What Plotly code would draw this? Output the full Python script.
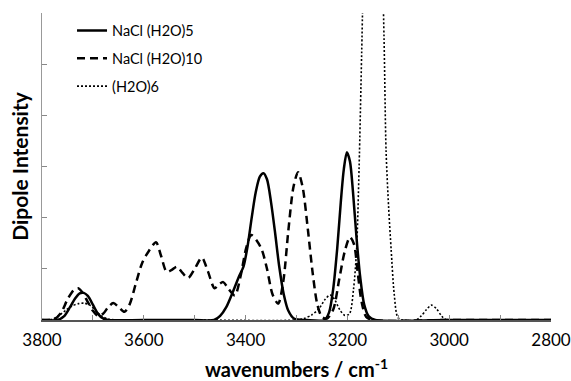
import plotly.graph_objects as go

# NaCl (H2O)5  (solid)
x_nacl5 = [3800, 3770, 3757, 3745, 3735, 3726, 3718, 3710, 3700, 3690, 3680, 3670, 3600, 3500,
           3462, 3450, 3438, 3425, 3413, 3404, 3396, 3388, 3380, 3372, 3365, 3358, 3350, 3342,
           3334, 3325, 3316, 3305, 3280, 3245, 3236, 3228, 3220, 3213, 3207, 3201, 3195, 3189,
           3182, 3175, 3167, 3158, 3145, 3000, 2800]
y_nacl5 = [0, 0, 0.07, 0.25, 0.42, 0.52, 0.53, 0.47, 0.3, 0.12, 0.03, 0, 0, 0,
           0, 0.08, 0.25, 0.55, 0.85, 1.05, 1.45, 2.0, 2.5, 2.8, 2.87, 2.75, 2.3, 1.7,
           1.05, 0.5, 0.18, 0.03, 0, 0, 0.15, 0.6, 1.4, 2.3, 2.95, 3.28, 3.1, 2.5,
           1.6, 0.85, 0.3, 0.07, 0, 0, 0]

# NaCl (H2O)10  (dashed)
x_nacl10 = [3800, 3775, 3762, 3750, 3738, 3729, 3720, 3710, 3700, 3690, 3680, 3670, 3660, 3650,
            3638, 3628, 3616, 3603, 3590, 3576, 3566, 3555, 3545, 3535, 3524, 3513, 3500, 3486,
            3474, 3461, 3452, 3444, 3433, 3421, 3410, 3399, 3389, 3378, 3368, 3358, 3347, 3336,
            3326, 3316, 3306, 3297, 3288, 3278, 3268, 3259, 3250, 3240, 3228, 3216, 3205, 3195,
            3187, 3180, 3172, 3163, 3150, 3000, 2800]
y_nacl10 = [0, 0.02, 0.15, 0.4, 0.58, 0.62, 0.53, 0.35, 0.18, 0.08, 0.12, 0.25, 0.33, 0.26,
            0.16, 0.3, 0.7, 1.12, 1.35, 1.52, 1.25, 0.94, 0.98, 1.04, 0.92, 0.82, 1.0, 1.22,
            0.95, 0.62, 0.7, 0.74, 0.6, 0.48, 0.85, 1.4, 1.66, 1.55, 1.37, 1.0, 0.5, 0.32,
            0.75, 1.75, 2.6, 2.89, 2.6, 1.8, 0.9, 0.3, 0.06, 0.03, 0.2, 0.8, 1.35, 1.62,
            1.48, 0.95, 0.35, 0.06, 0, 0, 0]

# (H2O)6  (dotted)
x_h2o6 = [3800, 3778, 3765, 3752, 3740, 3728, 3718, 3706, 3694, 3682, 3670, 3655, 3500, 3300,
          3285, 3270, 3256, 3244, 3234, 3225, 3215, 3205, 3196, 3188, 3182, 3177, 3172, 3166,
          3158, 3150, 3142, 3134, 3128, 3124, 3119, 3114, 3108, 3101, 3092, 3065, 3055, 3045,
          3035, 3025, 3015, 3005, 2900, 2800]
y_h2o6 = [0, 0.02, 0.1, 0.2, 0.28, 0.32, 0.33, 0.29, 0.18, 0.07, 0.02, 0, 0, 0,
          0.03, 0.1, 0.22, 0.4, 0.49, 0.4, 0.2, 0.09, 0.12, 0.6, 1.37, 3.0, 5.2, 8.0,
          10.8, 12.0, 10.8, 8.0, 5.5, 3.3, 2.2, 1.37, 0.5, 0.05, 0, 0, 0.08, 0.2,
          0.29, 0.22, 0.08, 0, 0, 0]

x_ticks = [3800, 3600, 3400, 3200, 3000, 2800]
x_tick_labels = ["3800", "3600", "3400", "3200", "3000", "2800"]
y_ticks = [0, 1, 2, 3, 4, 5, 6]

fig = go.Figure()
fig.add_trace(go.Scatter(x=x_nacl5, y=y_nacl5, mode="lines", name="NaCl (H2O)5",
                         legendgroup="a",
                         line=dict(color="black", width=2.5, shape="spline", smoothing=0.8)))
fig.add_trace(go.Scatter(x=x_nacl10, y=y_nacl10, mode="lines", name="NaCl (H2O)10",
                         legendgroup="b",
                         line=dict(color="black", width=2.5, dash="8px,5px", shape="spline", smoothing=0.8)))
fig.add_trace(go.Scatter(x=x_h2o6, y=y_h2o6, mode="lines", name="(H2O)6",
                         legendgroup="c",
                         line=dict(color="black", width=1.6, dash="2px,2px", shape="spline", smoothing=0.8)))

fig.update_layout(
    width=571, height=381,
    margin=dict(l=42, r=20, t=13, b=61),
    paper_bgcolor="white", plot_bgcolor="white",
    font=dict(family="Lato, Noto Sans, sans-serif", color="black"),
    showlegend=True,
    legend=dict(x=0.059, y=0.995, xanchor="left", yanchor="top",
                bgcolor="rgba(0,0,0,0)", font=dict(size=14.5),
                tracegroupgap=6, itemwidth=30),
    xaxis=dict(range=[3800, 2800], tickvals=x_ticks, ticktext=x_tick_labels,
               ticks="inside", ticklen=5, tickcolor="#888888", tickwidth=1,
               minor=dict(dtick=100, ticks="inside", ticklen=5, tickcolor="#888888", showgrid=False),
               showline=True, linecolor="#555555", linewidth=1.5, showgrid=False,
               zeroline=False, tickfont=dict(size=17), automargin=False,
               ticklabelstandoff=4,
               title=dict(text="<b>wavenumbers / cm<sup>-1</sup></b>", font=dict(size=20), standoff=16)),
    yaxis=dict(range=[0, 6], tickvals=y_ticks, showticklabels=False,
               ticks="inside", ticklen=5, tickcolor="#888888", tickwidth=1,
               showline=True, linecolor="#999999", linewidth=1, showgrid=False,
               zeroline=False, automargin=False,
               title=dict(text="<b>Dipole Intensity</b>", font=dict(size=21), standoff=6)),
)

fig.write_html("out.html", config={"displayModeBar": False},
               post_script="document.body.style.margin='0';document.body.style.overflow='hidden';")
